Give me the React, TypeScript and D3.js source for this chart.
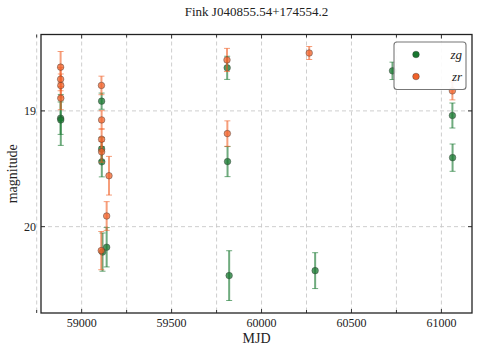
import React from "react";
import * as d3 from "d3";

const W = 479;
const H = 353;
const title = "Fink J040855.54+174554.2";
const xTicks = [59000, 59500, 60000, 60500, 61000];
const xMinor = [58750, 59250, 59750, 60250, 60750];
const yTicks = [19, 20];
const seriesNames = ["zg", "zr"];
const seriesColors = ["#17772f", "#f0622a"];

const zgMjd = [58883, 58884, 59111, 59111, 59112, 59116, 59139, 59809, 59811, 59820, 60298, 60728, 61061, 61062];
const zgMag = [19.063, 19.078, 18.916, 19.33, 19.44, 20.22, 20.178, 18.628, 19.438, 20.423, 20.38, 18.654, 19.04, 19.404];
const zgErr = [0.14, 0.22, 0.07, 0.1, 0.13, 0.165, 0.17, 0.1, 0.13, 0.215, 0.155, 0.075, 0.108, 0.118];

const zrMjd = [58883, 58883, 58884, 58884, 59110, 59111, 59111, 59111, 59152, 59139, 59109, 59808, 59810, 60265, 61061];
const zrMag = [18.622, 18.726, 18.781, 18.89, 18.78, 19.078, 19.245, 19.354, 19.56, 19.908, 20.207, 18.56, 19.196, 18.5, 18.827];
const zrErr = [0.135, 0.1, 0.1, 0.1, 0.08, 0.08, 0.09, 0.09, 0.167, 0.124, 0.165, 0.1, 0.11, 0.056, 0.078];

const M = { left: 41, right: 472, top: 34.5, bottom: 313 };

export default function App() {
  const x = d3.scaleLinear().domain([58774, 61170]).range([M.left, M.right]);
  const y = d3.scaleLinear().domain([18.34, 20.746]).range([M.top, M.bottom]);
  const font = "'Liberation Serif', 'DejaVu Serif', serif";

  const series = [
    { mjd: zgMjd, mag: zgMag, err: zgErr, color: seriesColors[0] },
    { mjd: zrMjd, mag: zrMag, err: zrErr, color: seriesColors[1] },
  ];

  const cap = 3;
  return (
    <div style={{ position: "absolute", left: 0, top: 0 }}>
      <svg width={W} height={H} style={{ display: "block", background: "#fff" }}>
        <g stroke="#c8c8c8" strokeWidth={0.9} strokeDasharray="4,3">
          {[...xTicks, ...xMinor].map((t) => (
            <line key={"gx" + t} x1={x(t)} x2={x(t)} y1={M.top} y2={M.bottom} />
          ))}
          {yTicks.map((t) => (
            <line key={"gy" + t} x1={M.left} x2={M.right} y1={y(t)} y2={y(t)} />
          ))}
        </g>
        {series.map((s, si) => (
          <g key={si}>
            {s.mjd.map((m, i) => {
              const cx = x(m);
              const y0 = y(s.mag[i] - s.err[i]);
              const y1 = y(s.mag[i] + s.err[i]);
              return (
                <g key={i} stroke={s.color} strokeOpacity={0.62} strokeWidth={2}>
                  <line x1={cx} x2={cx} y1={y0} y2={y1} />
                  <line x1={cx - cap} x2={cx + cap} y1={y0} y2={y0} strokeWidth={1} />
                  <line x1={cx - cap} x2={cx + cap} y1={y1} y2={y1} strokeWidth={1} />
                </g>
              );
            })}
            {s.mjd.map((m, i) => (
              <circle
                key={"c" + i}
                cx={x(m)}
                cy={y(s.mag[i])}
                r={3.3}
                fill={s.color}
                fillOpacity={0.75}
                stroke="#333"
                strokeOpacity={0.45}
                strokeWidth={0.9}
              />
            ))}
          </g>
        ))}
        <rect x={M.left} y={M.top} width={M.right - M.left} height={M.bottom - M.top} fill="none" stroke="#222" strokeWidth={1.3} />
        <g stroke="#222" strokeWidth={0.9}>
          {xTicks.map((t) => (
            <g key={"tx" + t}>
              <line x1={x(t)} x2={x(t)} y1={M.bottom} y2={M.bottom - 4} />
              <line x1={x(t)} x2={x(t)} y1={M.top} y2={M.top + 4} />
            </g>
          ))}
          {xMinor.map((t) => (
            <g key={"tm" + t}>
              <line x1={x(t)} x2={x(t)} y1={M.bottom} y2={M.bottom - 3} />
              <line x1={x(t)} x2={x(t)} y1={M.top} y2={M.top + 3} />
            </g>
          ))}
          {yTicks.map((t) => (
            <g key={"ty" + t}>
              <line x1={M.left} x2={M.left + 4} y1={y(t)} y2={y(t)} />
              <line x1={M.right} x2={M.right - 4} y1={y(t)} y2={y(t)} />
            </g>
          ))}
        </g>
        <g fontFamily={font} fontSize={12} fill="#222">
          {xTicks.map((t) => (
            <text key={"lx" + t} x={x(t)} y={M.bottom + 14} textAnchor="middle">
              {t}
            </text>
          ))}
          {yTicks.map((t) => (
            <text key={"ly" + t} x={M.left - 5} y={y(t) + 4} textAnchor="end">
              {t}
            </text>
          ))}
        </g>
        <text x={(M.left + M.right) / 2} y={343} textAnchor="middle" fontFamily={font} fontSize={14} fill="#222">
          MJD
        </text>
        <text
          transform={`translate(17,${(M.top + M.bottom) / 2}) rotate(-90)`}
          textAnchor="middle"
          fontFamily={font}
          fontSize={14}
          fill="#222"
        >
          magnitude
        </text>
        <text x={(M.left + M.right) / 2} y={16} textAnchor="middle" fontFamily={font} fontSize={13} fill="#222">
          {title}
        </text>
        <g>
          <rect x={394} y={42} width={72} height={47.5} rx={3} fill="#fff" fillOpacity={0.9} stroke="#777" strokeWidth={1.1} />
          {seriesNames.map((n, i) => (
            <g key={n}>
              <circle cx={416} cy={54.5 + i * 22} r={3.3} fill={seriesColors[i]} stroke="#333" strokeOpacity={0.5} strokeWidth={0.8} />
              <text x={462} y={58.5 + i * 22} textAnchor="end" fontFamily={font} fontStyle="italic" fontSize={13} fill="#222">
                {n}
              </text>
            </g>
          ))}
        </g>
      </svg>
    </div>
  );
}
